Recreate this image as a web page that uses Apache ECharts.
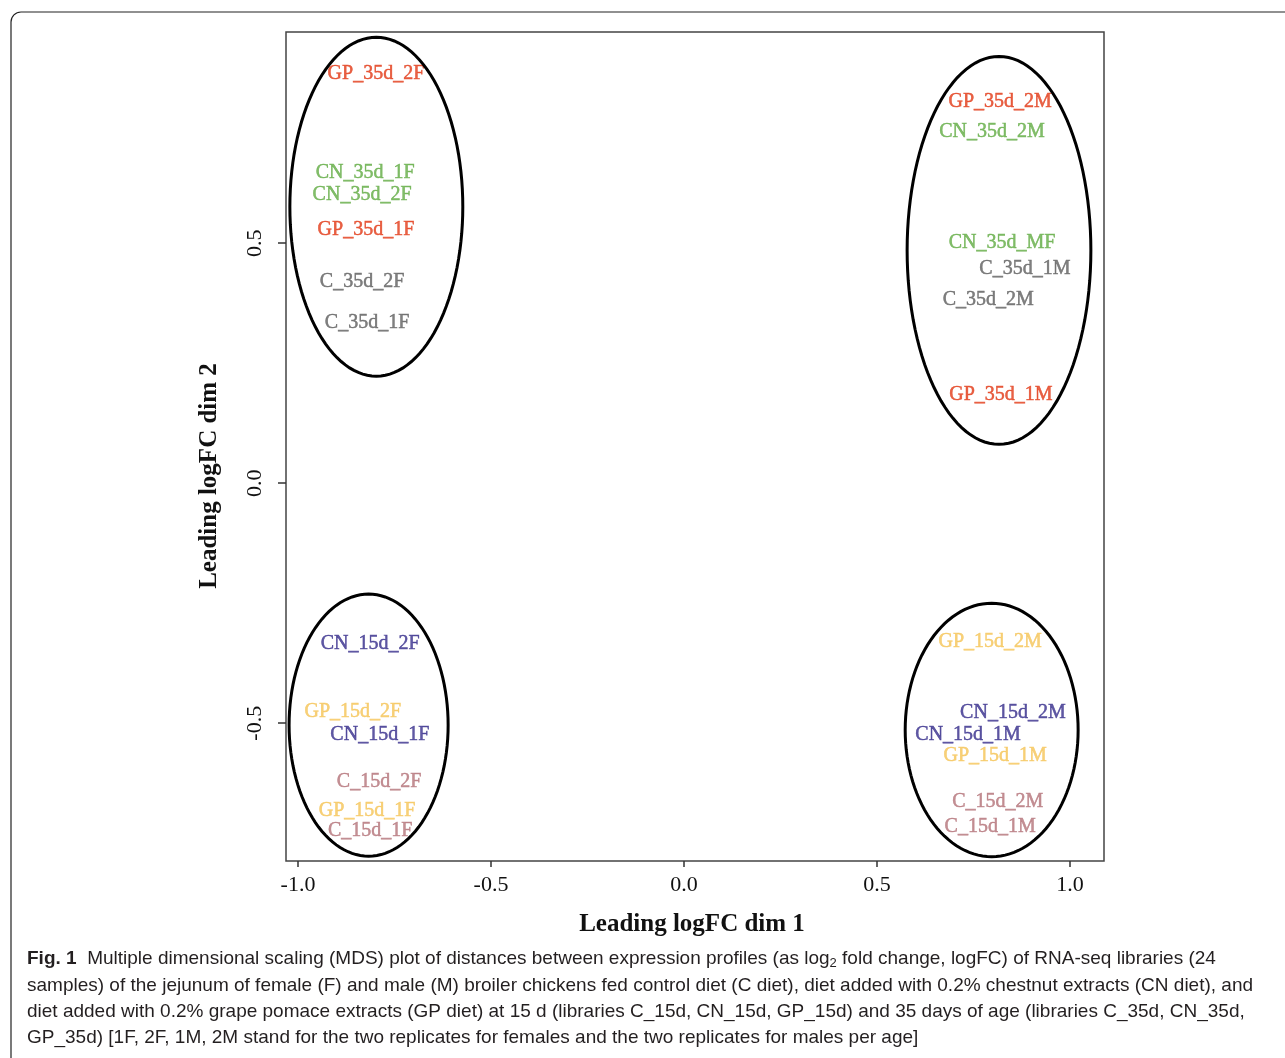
<!DOCTYPE html>
<html>
<head>
<meta charset="utf-8">
<script src="https://cdn.jsdelivr.net/npm/echarts@6/dist/echarts.min.js"></script>
<style>
  html, body { margin: 0; padding: 0; background: #fff; }
  #main { width: 1285px; height: 1058px; }
</style>
</head>
<body>
<div id="main"></div>
<script>
// sample labels and MDS coordinates
var sampleNames = [
  "GP_35d_2F", "CN_35d_1F", "CN_35d_2F", "GP_35d_1F", "C_35d_2F", "C_35d_1F",
  "GP_35d_2M", "CN_35d_2M", "CN_35d_MF", "C_35d_1M", "C_35d_2M", "GP_35d_1M",
  "CN_15d_2F", "GP_15d_2F", "CN_15d_1F", "C_15d_2F", "GP_15d_1F", "C_15d_1F",
  "GP_15d_2M", "CN_15d_2M", "CN_15d_1M", "GP_15d_1M", "C_15d_2M", "C_15d_1M"
];
var dim1 = [
  -0.798, -0.826, -0.834, -0.824, -0.834, -0.821,
  0.819, 0.798, 0.824, 0.883, 0.788, 0.821,
  -0.813, -0.858, -0.788, -0.790, -0.821, -0.813,
  0.793, 0.852, 0.736, 0.806, 0.813, 0.793
];
var dim2 = [
  0.854, 0.646, 0.600, 0.529, 0.419, 0.335,
  0.794, 0.733, 0.500, 0.446, 0.383, 0.185,
  -0.335, -0.477, -0.523, -0.621, -0.683, -0.725,
  -0.331, -0.479, -0.523, -0.567, -0.663, -0.715
];
var groupNames = ["GP_35d", "CN_35d", "C_35d", "CN_15d", "GP_15d", "C_15d"];
var groupColors = ["#e23a17", "#63ad45", "#5f5f5f", "#372e8c", "#f5c458", "#b47379"];

// ellipses: centre and half-axes in data units
var ellX = [-0.797, 0.816, -0.817, 0.797];
var ellY = [0.576, 0.485, -0.504, -0.514];
var ellRx = [0.224, 0.238, 0.206, 0.224];
var ellRy = [0.353, 0.404, 0.273, 0.264];

var tickValues = [-1, -0.5, 0, 0.5, 1];
var yTickValues = [-0.5, 0, 0.5];

function groupOf(name) {
  return name.substring(0, name.lastIndexOf("_"));
}

var chart = echarts.init(document.getElementById("main"));

var series = [];
groupNames.forEach(function (g, gi) {
  var pts = [];
  for (var i = 0; i < sampleNames.length; i++) {
    if (groupOf(sampleNames[i]) === g) {
      pts.push({ name: sampleNames[i], value: [dim1[i], dim2[i]] });
    }
  }
  series.push({
    type: "scatter",
    name: g,
    symbolSize: 1,
    itemStyle: { color: "rgba(0,0,0,0)" },
    label: {
      show: true,
      position: "inside",
      formatter: "{b}",
      color: groupColors[gi],
      textBorderColor: groupColors[gi],
      textBorderWidth: 0.5,
      fontFamily: "Liberation Serif",
      fontSize: 20,
      align: "center",
      verticalAlign: "middle"
    },
    data: pts,
    z: 3
  });
});

var ellData = [];
for (var k = 0; k < ellX.length; k++) {
  ellData.push([ellX[k], ellY[k], ellRx[k], ellRy[k]]);
}
series.push({
  type: "custom",
  data: ellData,
  silent: true,
  z: 4,
  renderItem: function (params, api) {
    var c = api.coord([api.value(0), api.value(1)]);
    var s = api.size([api.value(2), api.value(3)]);
    var pts = [];
    for (var a = 0; a < 120; a++) {
      var t = a / 120 * Math.PI * 2;
      pts.push([c[0] + s[0] * Math.cos(t), c[1] + s[1] * Math.sin(t)]);
    }
    return {
      type: "polygon",
      shape: { points: pts },
      style: { fill: null, stroke: "#000", lineWidth: 3 }
    };
  }
});

var option = {
  animation: false,
  backgroundColor: "#fff",
  grid: {
    left: 286, top: 32, width: 818, height: 829,
    show: true, borderColor: "#444", borderWidth: 1.5,
    outerBoundsMode: "none"
  },
  xAxis: {
    type: "value",
    position: "bottom",
    min: -1.031, max: 1.088,
    axisLine: { show: false, onZero: false },
    splitLine: { show: false },
    axisTick: { show: true, length: 6, customValues: tickValues, lineStyle: { color: "#333", width: 1.5 } },
    axisLabel: {
      customValues: tickValues,
      margin: 13,
      color: "#111",
      fontFamily: "Liberation Serif",
      fontSize: 22,
      formatter: function (v) { return v.toFixed(1); }
    }
  },
  yAxis: {
    type: "value",
    position: "left",
    min: -0.787, max: 0.94,
    axisLine: { show: false, onZero: false },
    splitLine: { show: false },
    axisTick: { show: true, length: 8, customValues: yTickValues, lineStyle: { color: "#333", width: 1.5 } },
    axisLabel: {
      customValues: yTickValues,
      rotate: 90,
      margin: 20,
      color: "#111",
      fontFamily: "Liberation Serif",
      fontSize: 22,
      formatter: function (v) { return v.toFixed(1); }
    }
  },
  graphic: [
    {
      type: "rect",
      shape: { x: 11, y: 12, width: 1320, height: 1100, r: 10 },
      style: { fill: null, stroke: "#222", lineWidth: 1.2 },
      silent: true
    },
    {
      type: "text", x: 692, y: 925,
      style: {
        text: "Leading logFC dim 1", fontFamily: "Liberation Serif", fontWeight: "bold",
        fontSize: 25, fill: "#111", align: "center", verticalAlign: "middle"
      }
    },
    {
      type: "text", x: 210, y: 476, rotation: Math.PI / 2,
      style: {
        text: "Leading logFC dim 2", fontFamily: "Liberation Serif", fontWeight: "bold",
        fontSize: 25, fill: "#111", align: "center", verticalAlign: "middle"
      }
    },
    {
      type: "text", left: 27, top: 949,
      style: {
        text: "{b|Fig. 1}  Multiple dimensional scaling (MDS) plot of distances between expression profiles (as log{s|2} fold change, logFC) of RNA-seq libraries (24",
        fontFamily: "Liberation Sans", fontSize: 19, fill: "#231f20",
        rich: {
          b: { fontWeight: "bold", fontSize: 19, fontFamily: "Liberation Sans", fill: "#231f20" },
          s: { fontSize: 13, fontFamily: "Liberation Sans", fill: "#231f20", padding: [10, 0, 0, 0] }
        }
      }
    },
    {
      type: "text", left: 27, top: 976,
      style: {
        text: "samples) of the jejunum of female (F) and male (M) broiler chickens fed control diet (C diet), diet added with 0.2% chestnut extracts (CN diet), and",
        fontFamily: "Liberation Sans", fontSize: 19, fill: "#231f20"
      }
    },
    {
      type: "text", left: 27, top: 1002,
      style: {
        text: "diet added with 0.2% grape pomace extracts (GP diet) at 15 d (libraries C_15d, CN_15d, GP_15d) and 35 days of age (libraries C_35d, CN_35d,",
        fontFamily: "Liberation Sans", fontSize: 19, fill: "#231f20"
      }
    },
    {
      type: "text", left: 27, top: 1028,
      style: {
        text: "GP_35d) [1F, 2F, 1M, 2M stand for the two replicates for females and the two replicates for males per age]",
        fontFamily: "Liberation Sans", fontSize: 19, fill: "#231f20"
      }
    }
  ],
  series: series
};

chart.setOption(option);
window.addEventListener("resize", function () { chart.resize(); });
</script>
</body>
</html>
